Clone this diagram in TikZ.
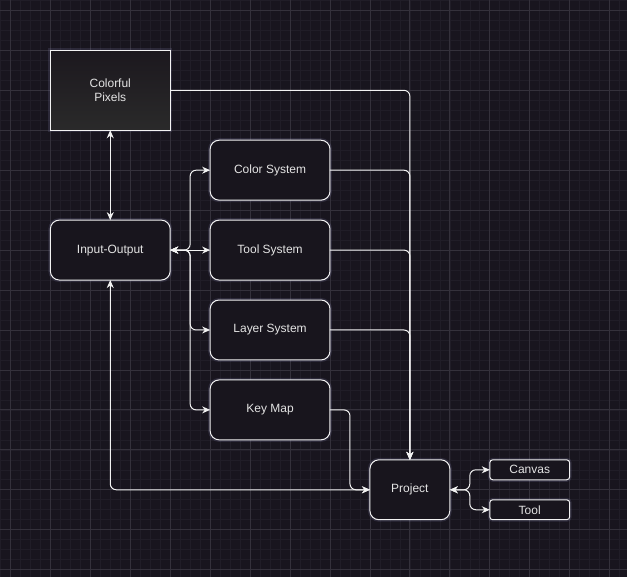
\documentclass[tikz,border=0pt]{standalone}
\usepackage{fontspec}
\setmainfont{Liberation Sans}
\usepackage{xcolor}
\usepackage{tikz}
\usetikzlibrary{arrows.meta,positioning}
\definecolor{canvasbg}{HTML}{18151E}
\definecolor{gridminor}{HTML}{201D27}
\definecolor{gridmajor}{HTML}{34313B}
\definecolor{boxfill}{HTML}{18151D}
\definecolor{boxline}{HTML}{F2F2F2}
\definecolor{boxtext}{HTML}{E4E4E4}
\definecolor{glow}{HTML}{8A88B8}
\definecolor{pixeltop}{HTML}{1C181E}
\definecolor{pixelbot}{HTML}{2A2A2A}
\tikzset{
  module/.style={
    draw=boxline,
    fill=boxfill,
    rounded corners=9pt,
    line width=1pt,
    minimum width=120pt,
    minimum height=60pt,
    inner sep=0pt,
    outer sep=0pt,
    align=center,
    text=boxtext,
    font=\fontsize{12}{14}\selectfont,
    preaction={draw=glow, draw opacity=0.18, line width=4pt}
  },
  projectbox/.style={
    module,
    minimum width=80pt
  },
  pixelbox/.style={
    module,
    rounded corners=0pt,
    minimum height=80pt,
    top color=pixeltop,
    bottom color=pixelbot
  },
  itembox/.style={
    module,
    rounded corners=3pt,
    minimum width=80pt,
    minimum height=20pt
  },
  link/.style={
    -{Stealth[length=8pt,width=7pt]},
    line width=1pt,
    draw=boxline,
    rounded corners=6pt
  },
  duallink/.style={
    link,
    {Stealth[length=8pt,width=7pt]}-{Stealth[length=8pt,width=7pt]}
  }
}
\begin{document}
\begin{tikzpicture}[x=1pt, y=-1pt]
  % background and grid
  \fill[canvasbg] (0,0) rectangle (627,577);
  \foreach \gx in {0,10,...,620} \draw[gridminor, line width=0.6pt] (\gx,0) -- (\gx,577);
  \foreach \gy in {0,10,...,570} \draw[gridminor, line width=0.6pt] (0,\gy) -- (627,\gy);
  \foreach \gx in {10,50,...,610} \draw[gridmajor, line width=0.8pt] (\gx,0) -- (\gx,577);
  \foreach \gy in {10,50,...,570} \draw[gridmajor, line width=0.8pt] (0,\gy) -- (627,\gy);
  \useasboundingbox (0,0) rectangle (627,577);

  \node[module] (io) at (110,250) {Input-Output};
  \node[pixelbox, above=90pt of io] (pixels) {Colorful\\Pixels};
  \node[module, right=40pt of io] (toolsys) {Tool System};
  \node[module, above=20pt of toolsys] (colorsys) {Color System};
  \node[module, below=20pt of toolsys] (layersys) {Layer System};
  \node[module, below=20pt of layersys] (keymap) {Key Map};
  \node[projectbox, below right=20pt and 40pt of keymap.south east, anchor=north west] (project) {Project};
  \node[itembox, anchor=north west] (canvas) at ([xshift=40pt]project.north east) {Canvas};
  \node[itembox, anchor=south west] (tool) at ([xshift=40pt]project.south east) {Tool};

  \draw[duallink] (pixels.south) -- (io.north);
  \draw[duallink] (io.east) -- ++(20pt,0) |- (colorsys.west);
  \draw[duallink] (io.east) -- (toolsys.west);
  \draw[duallink] (io.east) -- ++(20pt,0) |- (layersys.west);
  \draw[duallink] (io.east) -- ++(20pt,0) |- (keymap.west);
  \draw[duallink] (io.south) |- (project.west);

  \draw[link] (pixels.east) -| (project.north);
  \draw[link] (colorsys.east) -| (project.north);
  \draw[link] (toolsys.east) -| (project.north);
  \draw[link] (layersys.east) -| (project.north);
  \draw[link] (keymap.east) -- ++(20pt,0) |- (project.west);

  \draw[duallink] (project.east) -- ++(20pt,0) |- (canvas.west);
  \draw[duallink] (project.east) -- ++(20pt,0) |- (tool.west);
\end{tikzpicture}
\end{document}
